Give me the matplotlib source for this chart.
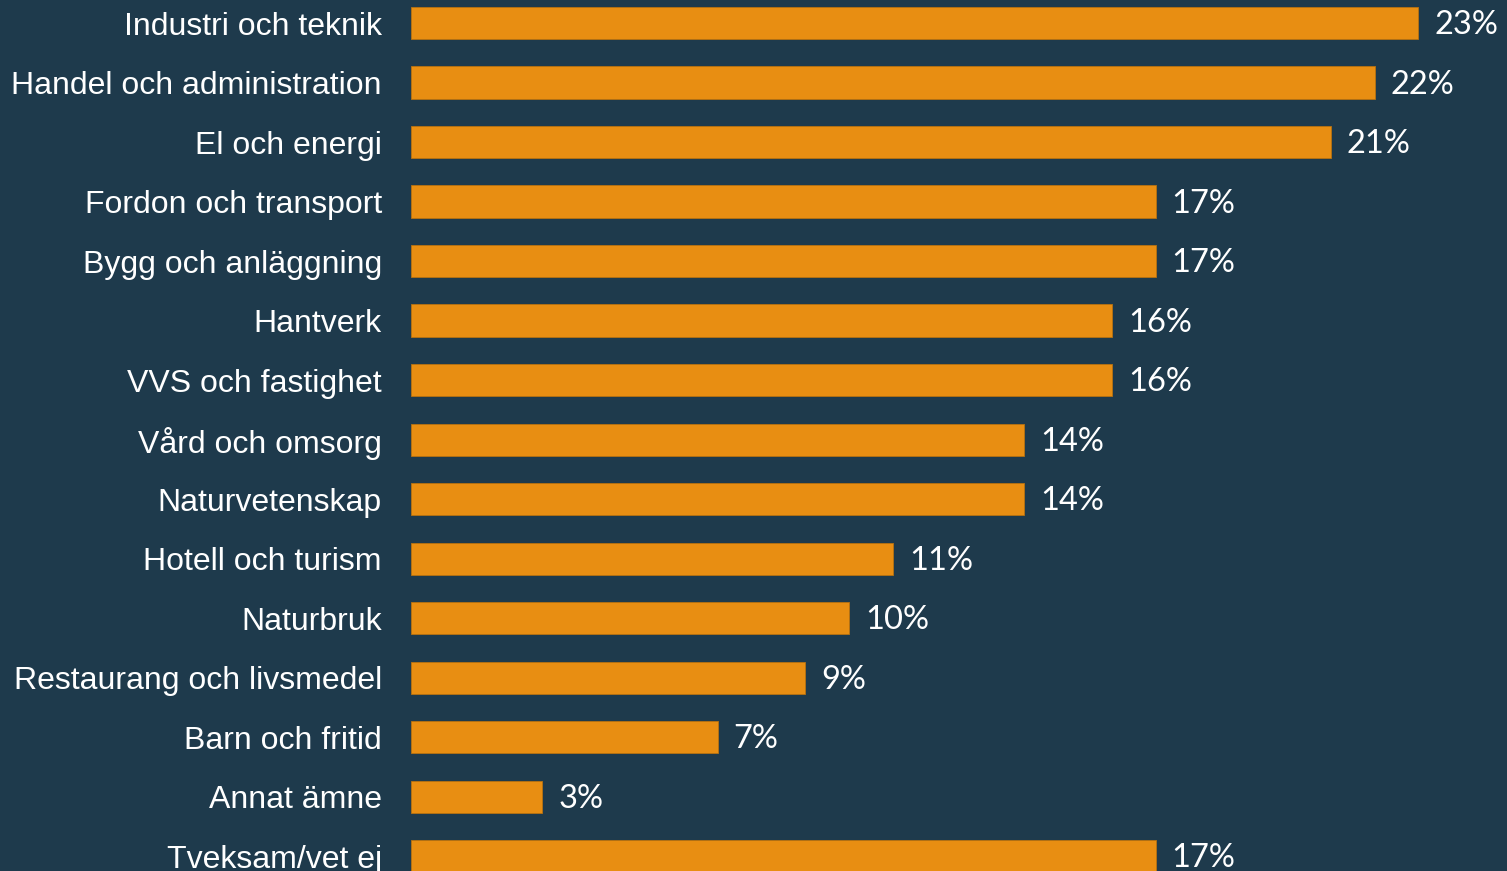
import matplotlib
matplotlib.use("Agg")
import matplotlib.pyplot as plt

categories = ["Industri och teknik", "Handel och administration", "El och energi",
              "Fordon och transport", "Bygg och anläggning", "Hantverk",
              "VVS och fastighet", "Vård och omsorg", "Naturvetenskap",
              "Hotell och turism", "Naturbruk", "Restaurang och livsmedel",
              "Barn och fritid", "Annat ämne", "Tveksam/vet ej"]
values = [23, 22, 21, 17, 17, 16, 16, 14, 14, 11, 10, 9, 7, 3, 17]

bg = "#1E3A4C"
bar_color = "#E88E12"

fig = plt.figure(figsize=(15.07, 8.71), dpi=100, facecolor=bg)
ax = fig.add_axes([411/1507, 0, 1 - 411/1507, 1])
ax.set_facecolor(bg)

y = list(range(len(categories)))
ax.barh(y, values, height=0.54, color=bar_color, edgecolor="#B8720F", linewidth=0.6)

ax.set_xlim(0, 1096/43.8)
ax.set_ylim(14.25, -0.387)

for s in ax.spines.values():
    s.set_visible(False)
ax.set_xticks([])
ax.set_yticks(y)
ax.set_yticklabels(categories, fontsize=23, color="white", family=["Liberation Sans", "DejaVu Sans"])
ax.tick_params(axis="y", length=0, pad=21)

for yi, v in zip(y, values):
    ax.annotate(f"{v}%", xy=(v, yi), xytext=(16, -2), textcoords="offset pixels",
                va="center", ha="left", fontsize=23.5, color="white",
                family=["Lato", "DejaVu Sans"])

fig.savefig("out.png", dpi=100, facecolor=bg)
